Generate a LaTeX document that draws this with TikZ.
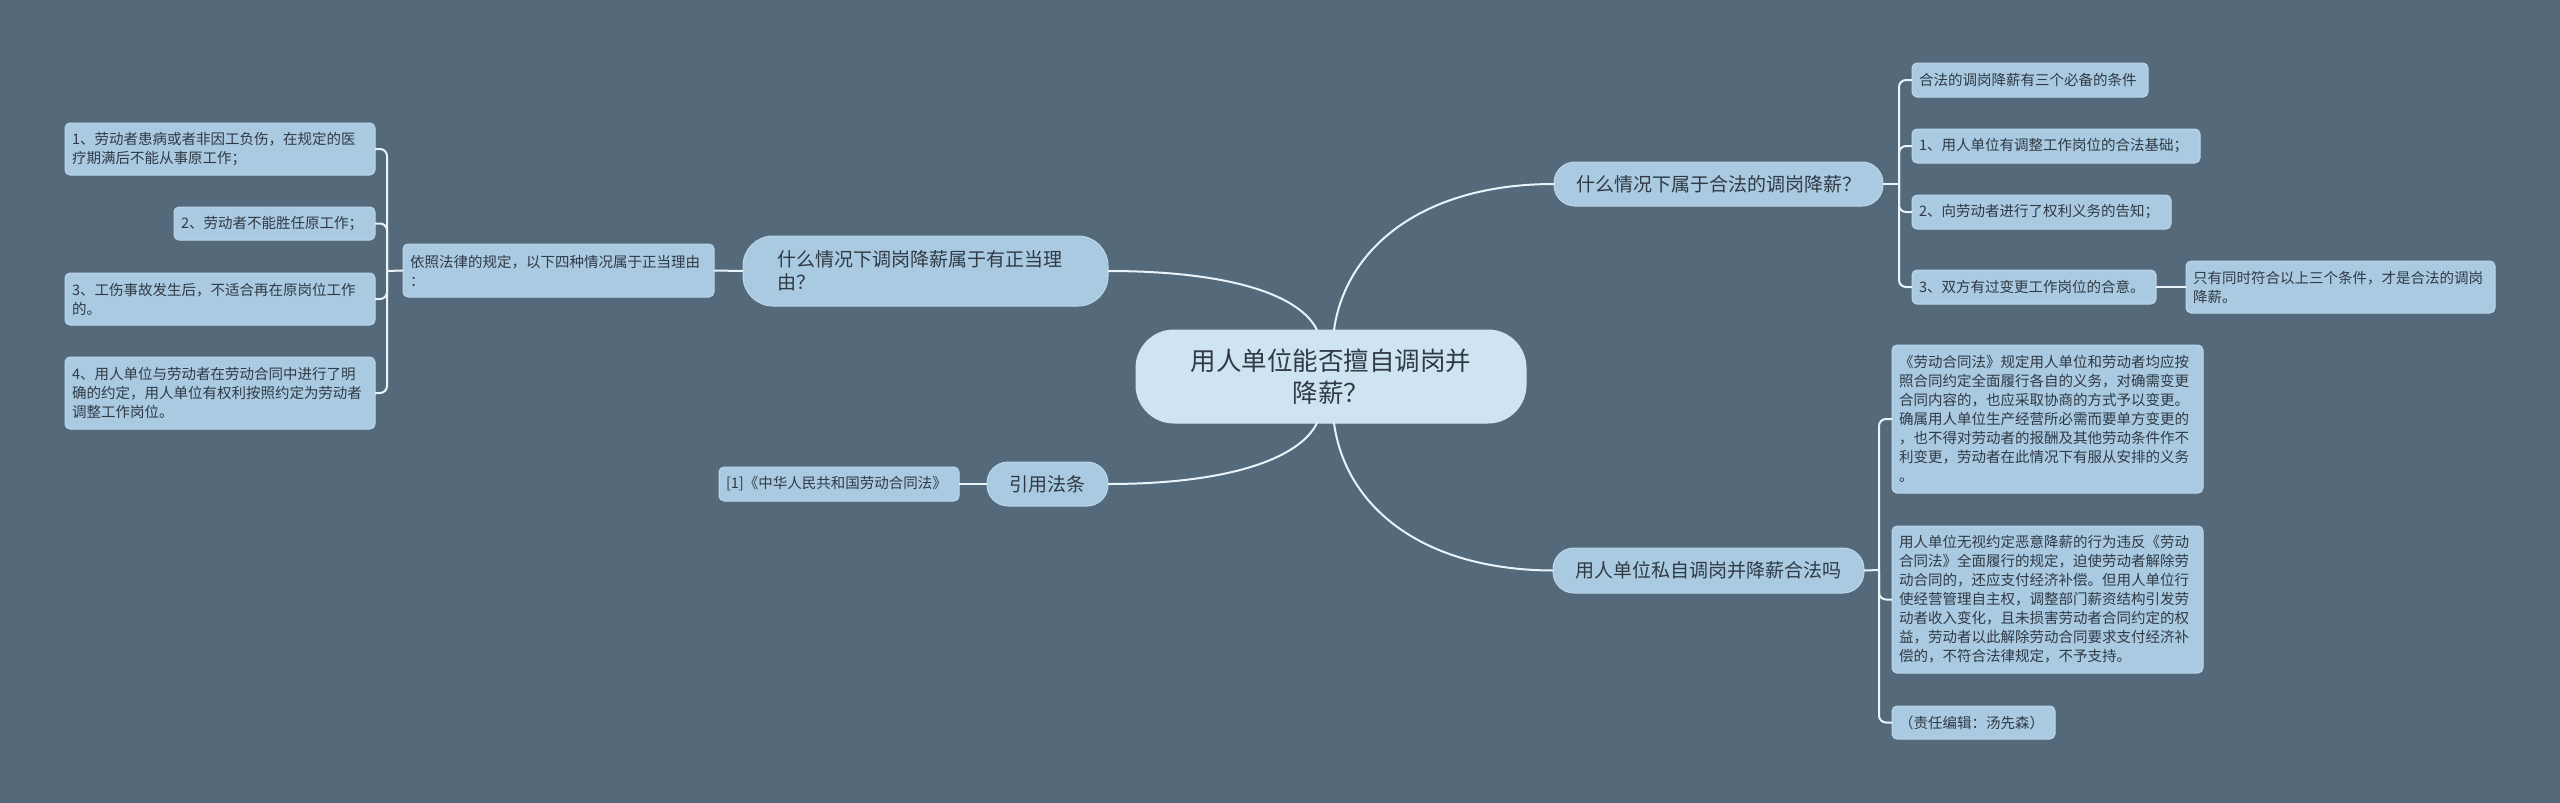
\documentclass[tikz,border=0pt]{standalone}
\usepackage{fontspec}
\newfontfamily\cjk{Noto Sans CJK SC}
\definecolor{bg}{HTML}{546A7B}
\definecolor{leafc}{HTML}{AACAE2}
\definecolor{leafb}{HTML}{BDD7EB}
\definecolor{cen}{HTML}{CFE4F2}
\definecolor{txt}{HTML}{2F3A44}
\definecolor{lnc}{HTML}{E8F3FA}
\begin{document}
\begin{tikzpicture}[x=1pt,y=-1pt,
  leaf/.style={draw=leafb, line width=1pt, fill=leafc, rounded corners=5pt, anchor=north west,
    inner xsep=7pt, inner ysep=0pt, outer sep=0pt, align=left, text=txt,
    font=\cjk\fontsize{14.5}{19}\selectfont},
  pill/.style={draw=leafb, line width=1pt, fill=leafc, anchor=north west, inner ysep=0pt,
    outer sep=0pt, text=txt, font=\cjk\fontsize{19}{23}\selectfont},
  conn/.style={draw=lnc, line width=2pt}]
\useasboundingbox (0,0) rectangle (2560,803);
\fill[bg] (0,0) rectangle (2560,803);

% central
\node[pill, draw=cen, fill=cen, rounded corners=38pt, minimum height=93pt, text width=330pt,
  inner xsep=30pt, align=center, font=\cjk\fontsize{25.5}{32}\selectfont] (c) at (1136,330)
  {用人单位能否擅自调岗并\\降薪？};

% left branch
\node[pill, rounded corners=30pt, minimum height=70pt, text width=297pt, inner xsep=34pt, align=left] (q1) at (743,236)
  {什么情况下调岗降薪属于有正当理\\由？};
\node[leaf, minimum height=53pt, text width=297pt] (yz) at (403,244)
  {依照法律的规定，以下四种情况属于正当理由\\：};
\node[leaf, minimum height=52pt, text width=296pt] (b1) at (65,123)
  {1、劳动者患病或者非因工负伤，在规定的医\\疗期满后不能从事原工作；};
\node[leaf, minimum height=33pt, text width=187pt] (b2) at (174,207)
  {2、劳动者不能胜任原工作；};
\node[leaf, minimum height=52pt, text width=296pt] (b3) at (65,273)
  {3、工伤事故发生后，不适合再在原岗位工作\\的。};
\node[leaf, minimum height=72pt, text width=296pt] (b4) at (65,357)
  {4、用人单位与劳动者在劳动合同中进行了明\\确的约定，用人单位有权利按照约定为劳动者\\调整工作岗位。};

\node[pill, rounded corners=21pt, minimum height=44pt, text width=81pt, inner xsep=20pt, align=center] (yy) at (987,462)
  {引用法条};
\node[leaf, minimum height=34pt, text width=226pt] (law) at (719,467)
  {[1]《中华人民共和国劳动合同法》};

% right upper branch
\node[pill, rounded corners=21pt, minimum height=44pt, text width=289pt, inner xsep=20pt, align=center] (q2) at (1554,162)
  {什么情况下属于合法的调岗降薪？};
\node[leaf, minimum height=34pt, text width=222pt] (r0) at (1912,63)
  {合法的调岗降薪有三个必备的条件};
\node[leaf, minimum height=34pt, text width=274pt] (r1) at (1912,129)
  {1、用人单位有调整工作岗位的合法基础；};
\node[leaf, minimum height=34pt, text width=245pt] (r2) at (1912,195)
  {2、向劳动者进行了权利义务的告知；};
\node[leaf, minimum height=34pt, text width=230pt] (r3) at (1912,270)
  {3、双方有过变更工作岗位的合意。};
\node[leaf, minimum height=52pt, text width=295pt] (only) at (2186,261)
  {只有同时符合以上三个条件，才是合法的调岗\\降薪。};

% right lower branch
\node[pill, rounded corners=21pt, minimum height=45pt, text width=271pt, inner xsep=20pt, align=center] (q3) at (1553,548)
  {用人单位私自调岗并降薪合法吗};
\node[leaf, minimum height=148pt, text width=297pt] (d1) at (1892,345)
  {《劳动合同法》规定用人单位和劳动者均应按\\照合同约定全面履行各自的义务，对确需变更\\合同内容的，也应采取协商的方式予以变更。\\确属用人单位生产经营所必需而要单方变更的\\，也不得对劳动者的报酬及其他劳动条件作不\\利变更，劳动者在此情况下有服从安排的义务\\。};
\node[leaf, minimum height=147pt, text width=297pt] (d2) at (1892,526)
  {用人单位无视约定恶意降薪的行为违反《劳动\\合同法》全面履行的规定，迫使劳动者解除劳\\动合同的，还应支付经济补偿。但用人单位行\\使经营管理自主权，调整部门薪资结构引发劳\\动者收入变化，且未损害劳动者合同约定的权\\益，劳动者以此解除劳动合同要求支付经济补\\偿的，不符合法律规定，不予支持。};
\node[leaf, minimum height=33pt, text width=149pt] (d3) at (1892,706)
  {（责任编辑：汤先森）};

% connectors
\draw[conn] (q1.east) .. controls (1230,271) and (1300,295) .. ([xshift=-14pt]c.north);
\draw[conn] ([xshift=3pt]c.north) .. controls (1345,250) and (1420,184) .. (q2.west);
\draw[conn] (yy.east) .. controls (1230,484) and (1300,458) .. ([xshift=-14pt]c.south);
\draw[conn] ([xshift=3pt]c.south) .. controls (1345,505) and (1420,570) .. (q3.west);

\coordinate (jl) at (387,271);
\foreach \n in {b1,b2,b3,b4} \draw[conn, rounded corners=7pt] (\n.east) -| (jl);
\draw[conn] (jl) -- (yz.west);
\draw[conn] (yz.east) -- (q1.west);
\draw[conn] (yy.west) -- (law.east);

\coordinate (jr) at (1899,184);
\foreach \n in {r0,r1,r2,r3} \draw[conn, rounded corners=7pt] (\n.west) -| (jr);
\draw[conn] (q2.east) -- (jr);
\draw[conn] (r3.east) -- (only.west);

\coordinate (jd) at (1879,570);
\foreach \n in {d1,d2,d3} \draw[conn, rounded corners=7pt] (\n.west) -| (jd);
\draw[conn] (q3.east) -- (jd);
\end{tikzpicture}
\end{document}
